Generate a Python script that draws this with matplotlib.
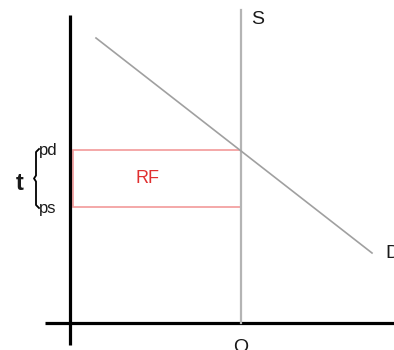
import matplotlib
matplotlib.use("Agg")
import matplotlib.pyplot as plt

plt.rcParams['font.family'] = ['Liberation Sans', 'DejaVu Sans']

# market with a vertical (fixed) supply and a tax wedge t
q_supply = 171          # quantity fixed by supply
demand_q = [26, 302]    # demand line end points (quantity)
demand_p = [285, 70]    # demand line end points (price)
p_d = 173               # price paid by demanders
p_s = 116               # price received by suppliers

fig = plt.figure(figsize=(3.94, 3.5), dpi=100)
ax = fig.add_axes([0, 0, 1, 1])
ax.set_xlim(-70, 324)
ax.set_ylim(-27, 323)
ax.axis('off')

# axes
ax.plot([0, 0], [-22, 308], color='black', lw=2.3, solid_capstyle='butt')
ax.plot([-25, 324], [0, 0], color='black', lw=2.3, solid_capstyle='butt')

# supply
ax.plot([q_supply, q_supply], [0, 313], color='#b4b4b4', lw=1.6)
ax.text(q_supply + 10, 303, 'S', fontsize=14, color='#1a1a1a', va='center', ha='left')

# demand
ax.plot(demand_q, demand_p, color='#a0a0a0', lw=1.2)
ax.text(demand_q[1] + 13, demand_p[1], 'D', fontsize=14, color='#1a1a1a',
        va='center', ha='left')

# tax revenue rectangle
ax.add_patch(plt.Rectangle((3, p_s), q_supply - 3, p_d - p_s, fill=False,
                           edgecolor='#f29a9a', lw=1.2))
ax.text(78, (p_d + p_s) / 2, 'RF', fontsize=13, color='#e03030', va='center', ha='center')

# price labels and the brace for t
ax.text(-31, p_d, 'pd', fontsize=12, color='#1a1a1a', va='center', ha='left')
ax.text(-31, p_s - 1, 'ps', fontsize=12, color='#1a1a1a', va='center', ha='left')
bx = -34
mid = (p_d + p_s) / 2
ax.plot([bx + 3, bx, bx, bx - 2, bx, bx, bx + 3],
        [p_d + 1, p_d - 2, mid + 3, mid, mid - 3, p_s + 2, p_s - 1],
        color='black', lw=1.3)
ax.text(-50, mid - 5, 't', fontsize=17, fontweight='bold', color='#1a1a1a',
        va='center', ha='center')

# quantity label
ax.text(q_supply, -24, 'Q', fontsize=14, color='#1a1a1a', va='center', ha='center')

fig.savefig('out.png', dpi=100)
